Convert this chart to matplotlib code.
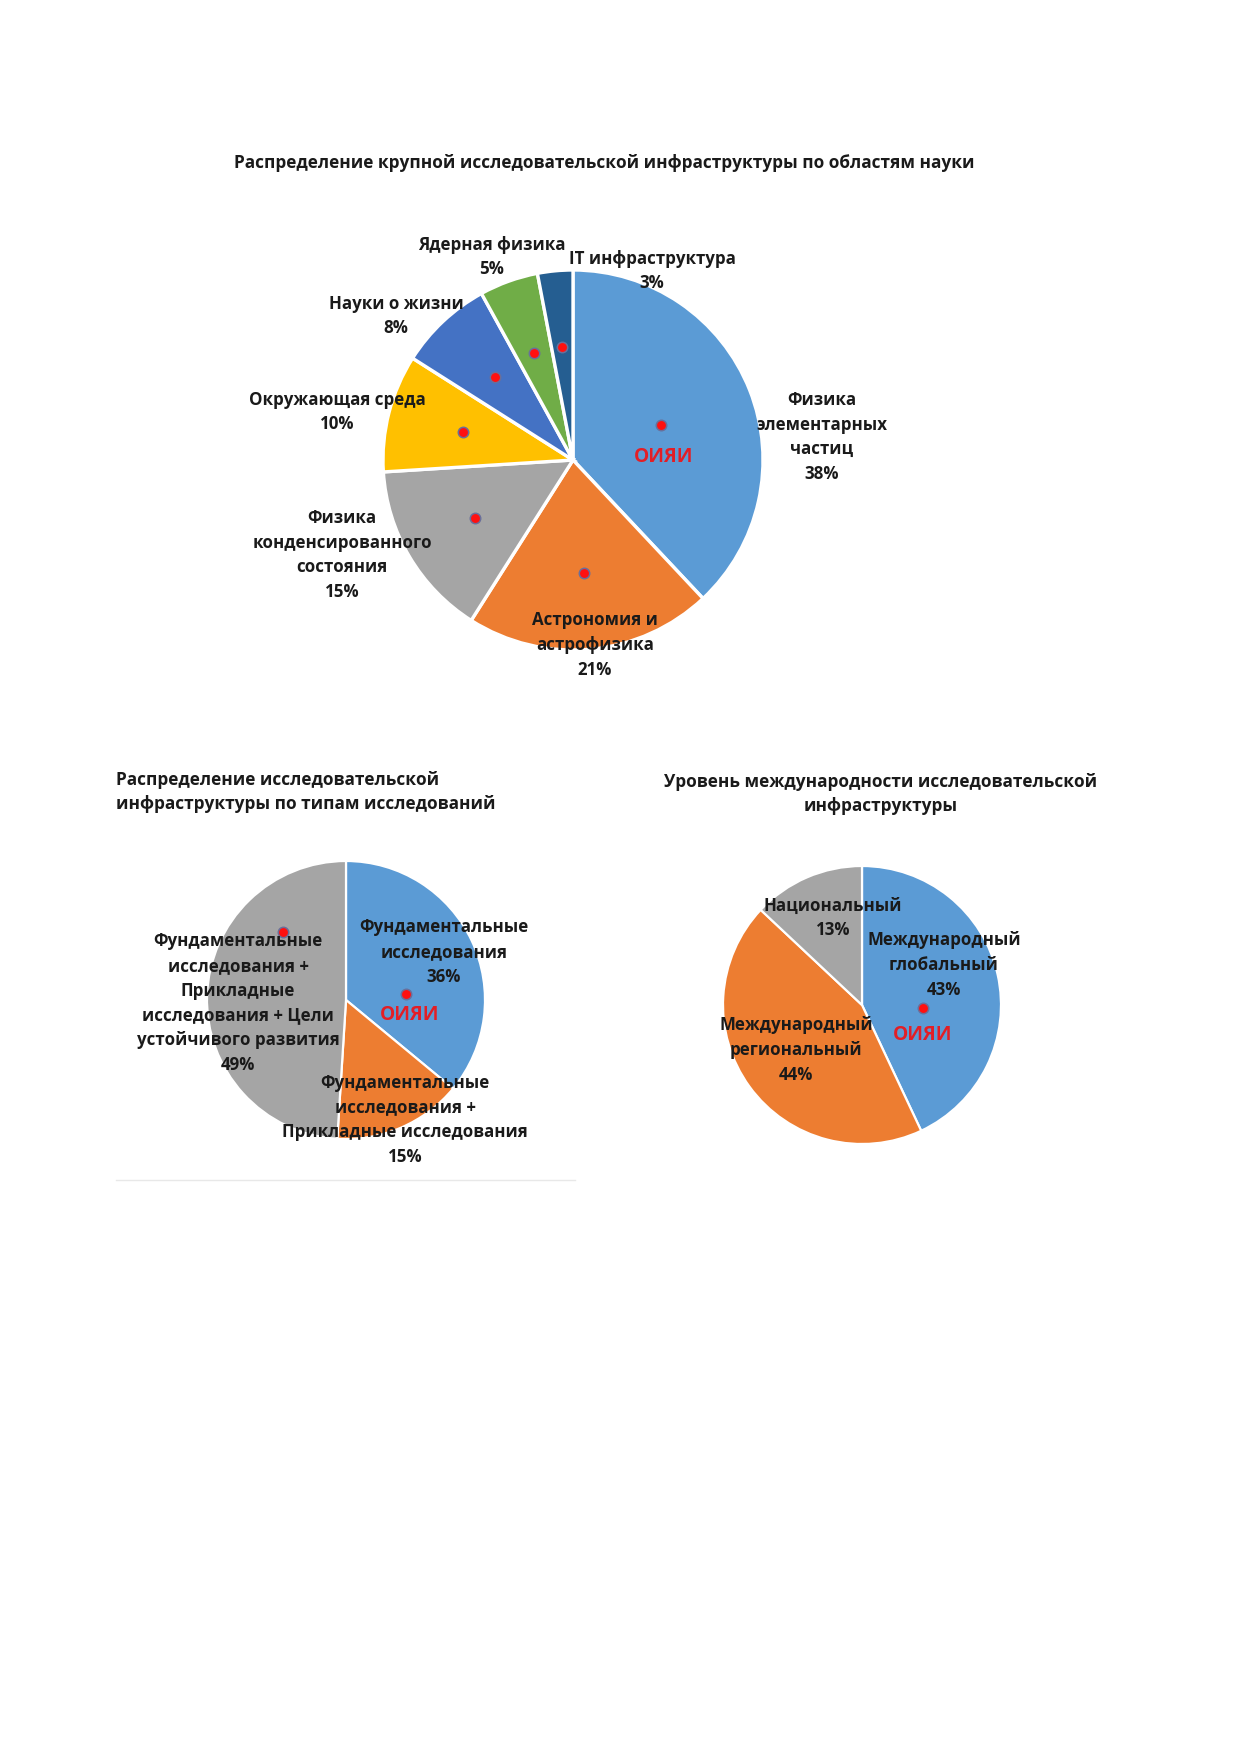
#Research infrastructure pie charts (ОИЯИ)
import numpy as np
import matplotlib
matplotlib.use('Agg')
import matplotlib.pyplot as plt
from matplotlib.lines import Line2D

plt.rcParams['font.family'] = ['Open Sans', 'DejaVu Sans']
plt.rcParams['font.weight'] = 'bold'

W, H = 1241, 1754

#Data - top chart
areas = ['Физика\nэлементарных\nчастиц', 'Астрономия и\nастрофизика',
         'Физика\nконденсированного\nсостояния', 'Окружающая среда',
         'Науки о жизни', 'Ядерная физика', 'IT инфраструктура']
area_pct = [38, 21, 15, 10, 8, 5, 3]
area_colors = ['#5B9BD5', '#ED7D31', '#A5A5A5', '#FFC000', '#4472C4', '#70AD47', '#255E91']

#Data - bottom left chart
types = ['Фундаментальные\nисследования',
         'Фундаментальные\nисследования +\nПрикладные исследования',
         'Фундаментальные\nисследования +\nПрикладные\nисследования + Цели\nустойчивого развития']
type_pct = [36, 15, 49]
type_colors = ['#5B9BD5', '#ED7D31', '#A5A5A5']

#Data - bottom right chart
levels = ['Международный\nглобальный', 'Международный\nрегиональный', 'Национальный']
level_pct = [43, 44, 13]
level_colors = ['#5B9BD5', '#ED7D31', '#A5A5A5']

TXT = '#1A1A1A'
RED = '#E31E26'
FS = 12.2
LS = 1.48


def px(x, y):
    """pixel (from top-left) -> figure fraction"""
    return x / W, 1 - y / H


def pie_axes(cx, cy, r):
    ax = fig.add_axes([(cx - r) / W, 1 - (cy + r) / H, 2 * r / W, 2 * r / H])
    return ax


def label(x, y, s, **kw):
    fx, fy = px(x, y)
    fig.text(fx, fy, s, ha='center', va='center', fontsize=FS, color=TXT,
             linespacing=LS, fontweight='bold', **kw)


def dot(ax, x, y):
    ax.plot(x, y, 'o', ms=7.5, mfc='#FF1010', mec='#6A6F9A', mew=1.1, zorder=5, clip_on=False)


fig = plt.figure(figsize=(W / 100, H / 100), dpi=100)

#Top chart
fig.text(*px(604, 163), 'Распределение крупной исследовательской инфраструктуры по областям науки',
         ha='center', va='center', fontsize=12.4, color=TXT, fontweight='bold')

ax = pie_axes(573, 460, 190)
wedges, _ = ax.pie(area_pct, colors=area_colors, startangle=90, counterclock=False,
                   wedgeprops=dict(edgecolor='white', linewidth=2.4))
ax.set_xlim(-1, 1)
ax.set_ylim(-1, 1)
ax.set_aspect('auto')
for i, w in enumerate(wedges):
    a = np.deg2rad((w.theta1 + w.theta2) / 2)
    rr = 0.5 if i == 0 else 0.6
    dot(ax, rr * np.cos(a), rr * np.sin(a))

top_pos = [(822, 437), (595, 645), (342, 555), (337, 412), (396, 316), (492, 257), (652, 271)]
for (x, y), name, p in zip(top_pos, areas, area_pct):
    label(x, y, f'{name}\n{p}%')
fig.text(*px(664, 457), 'ОИЯИ', ha='center', va='center', fontsize=13.8, color=RED, fontweight='bold')

#Bottom left chart
fig.text(*px(116, 792), 'Распределение исследовательской\nинфраструктуры по типам исследований',
         ha='left', va='center', fontsize=12.4, color=TXT, fontweight='bold', linespacing=LS)

ax = pie_axes(346, 1000, 139)
ax.pie(type_pct, colors=type_colors, startangle=90, counterclock=False,
       wedgeprops=dict(edgecolor='white', linewidth=1.6))
ax.set_xlim(-1, 1)
ax.set_ylim(-1, 1)
ax.set_aspect('auto')
dot(ax, 0.43, 0.04)
dot(ax, -0.45, 0.49)

bl_pos = [(444, 952), (405, 1120), (238, 1003)]
for (x, y), name, p in zip(bl_pos, types, type_pct):
    label(x, y, f'{name}\n{p}%')
fig.text(*px(410, 1015), 'ОИЯИ', ha='center', va='center', fontsize=13.8, color=RED, fontweight='bold')

fig.add_artist(Line2D([116 / W, 575 / W], [1 - 1180 / H] * 2, color='#E8E8E8', lw=1))

#Bottom right chart
fig.text(*px(881, 794), 'Уровень международности исследовательской\nинфраструктуры',
         ha='center', va='center', fontsize=12.4, color=TXT, fontweight='bold', linespacing=LS)

ax = pie_axes(862, 1005, 139)
ax.pie(level_pct, colors=level_colors, startangle=90, counterclock=False,
       wedgeprops=dict(edgecolor='white', linewidth=1.6))
ax.set_xlim(-1, 1)
ax.set_ylim(-1, 1)
ax.set_aspect('auto')
dot(ax, 0.44, -0.02)

br_pos = [(944, 965), (796, 1050), (833, 918)]
for (x, y), name, p in zip(br_pos, levels, level_pct):
    label(x, y, f'{name}\n{p}%')
fig.text(*px(923, 1035), 'ОИЯИ', ha='center', va='center', fontsize=13.8, color=RED, fontweight='bold')

fig.savefig('out.png', dpi=100)
